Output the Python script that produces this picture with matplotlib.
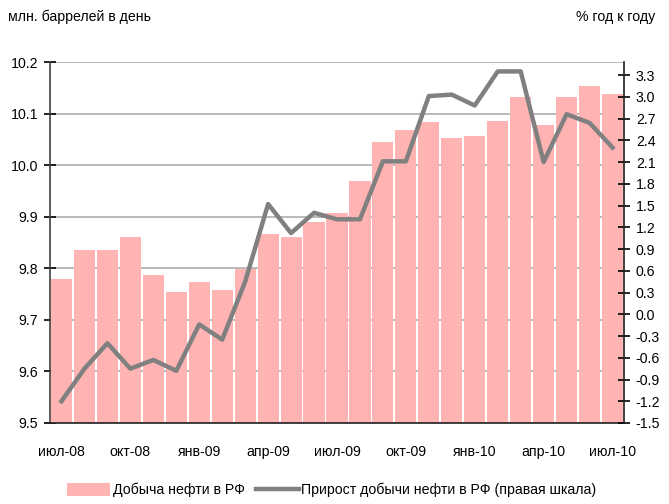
import numpy as np
import matplotlib.pyplot as plt

plt.rcParams['font.family'] = ['Liberation Sans', 'DejaVu Sans']

# months July 2008 - July 2010
months = ['июл-08', 'авг-08', 'сен-08', 'окт-08', 'ноя-08', 'дек-08',
          'янв-09', 'фев-09', 'мар-09', 'апр-09', 'май-09', 'июн-09',
          'июл-09', 'авг-09', 'сен-09', 'окт-09', 'ноя-09', 'дек-09',
          'янв-10', 'фев-10', 'мар-10', 'апр-10', 'май-10', 'июн-10', 'июл-10']

# oil output, mln barrels per day (left scale)
output = [9.779, 9.835, 9.835, 9.860, 9.787, 9.754, 9.773, 9.758, 9.799,
          9.866, 9.860, 9.890, 9.907, 9.969, 10.045, 10.068, 10.083, 10.052,
          10.056, 10.085, 10.132, 10.078, 10.132, 10.153, 10.138]

# year-on-year growth, % (right scale)
growth = [-1.20, -0.75, -0.40, -0.75, -0.63, -0.78, -0.14, -0.35, 0.45,
          1.52, 1.12, 1.40, 1.31, 1.31, 2.11, 2.11, 3.01, 3.03,
          2.88, 3.35, 3.35, 2.10, 2.76, 2.64, 2.30]

x = np.arange(len(months))
fs = 10.2

fig = plt.figure(figsize=(6.69, 5.04), dpi=100)
ax = fig.add_axes([50 / 669, 1 - 423 / 504, 574 / 669, 361 / 504])

ax.bar(x, output, width=0.92, color='#ffb3b3', zorder=2, label='Добыча нефти в РФ')
ax.set_ylim(9.5, 10.2)
ax.set_xlim(-0.5, len(months) - 0.5)
ax.set_yticks(np.arange(9.5, 10.21, 0.1))
ax.set_yticklabels(['%.1f' % v for v in np.arange(9.5, 10.21, 0.1)])
ax.yaxis.grid(True, color='#b4b4b4', linewidth=1.3, zorder=0)
ax.set_axisbelow(True)
ax.set_xticks(x[::3])
ax.set_xticklabels(months[::3])
ax.tick_params(axis='x', length=0, pad=16, labelsize=fs)
ax.tick_params(axis='y', direction='inout', length=9, width=1.2, labelsize=fs, pad=4)
ax.spines['top'].set_visible(False)
ax.spines['right'].set_visible(False)
ax.spines['left'].set_color('#404040')
ax.spines['left'].set_linewidth(1.2)
ax.spines['bottom'].set_color('#202020')
ax.spines['bottom'].set_linewidth(1.2)

ax2 = ax.twinx()
ax2.plot(x, growth, color='#808080', linewidth=3.2, zorder=3,
         label='Прирост добычи нефти в РФ (правая шкала)')
ax2.set_ylim(-1.5, 3.48)
yt = np.arange(-1.5, 3.31, 0.3)
ax2.set_yticks(yt)
ax2.set_yticklabels(['%.1f' % (0.0 if abs(v) < 1e-9 else v) for v in yt])
ax2.tick_params(axis='y', direction='inout', length=9, width=1.2, labelsize=fs, pad=4)
for s in ['top', 'left', 'bottom']:
    ax2.spines[s].set_visible(False)
ax2.spines['right'].set_color('#202020')
ax2.spines['right'].set_linewidth(1.2)

fig.text(8 / 669, 1 - 17 / 504, 'млн. баррелей в день', fontsize=fs, va='center', ha='left')
fig.text(655 / 669, 1 - 17 / 504, '% год к году', fontsize=fs, va='center', ha='right')

h1, l1 = ax.get_legend_handles_labels()
h2, l2 = ax2.get_legend_handles_labels()
fig.legend(h1 + h2, l1 + l2, loc='center', bbox_to_anchor=(332 / 669, 1 - 490 / 504),
           ncol=2, frameon=False, fontsize=fs, handlelength=3.0, handleheight=1.0,
           handletextpad=0.2, columnspacing=0.8)

plt.savefig('out.png')
